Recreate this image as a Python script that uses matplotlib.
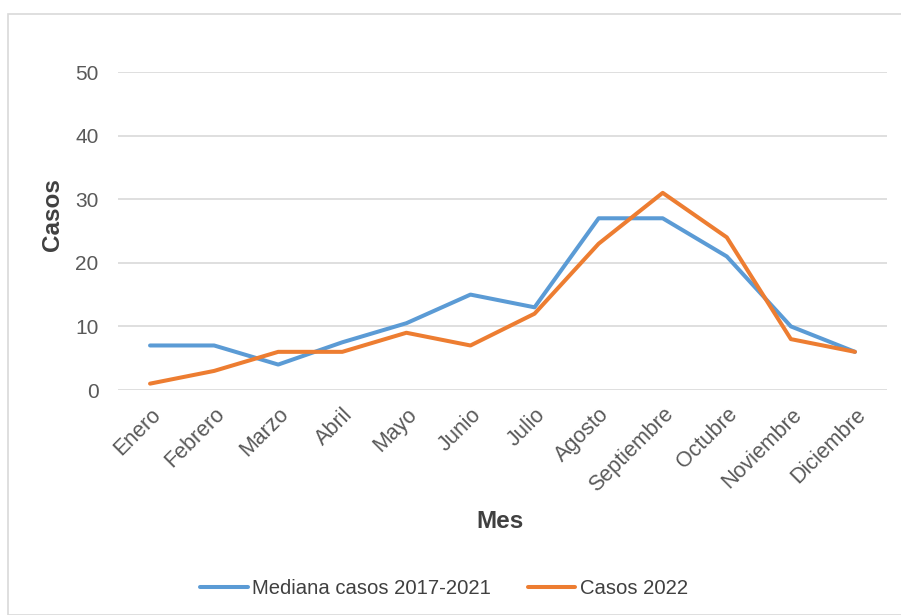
import matplotlib
matplotlib.use("Agg")
import matplotlib.pyplot as plt
from matplotlib.patches import Rectangle

plt.rcParams['font.family'] = ['Liberation Sans', 'DejaVu Sans']

meses = ["Enero", "Febrero", "Marzo", "Abril", "Mayo", "Junio", "Julio",
         "Agosto", "Septiembre", "Octubre", "Noviembre", "Diciembre"]
mediana = [7, 7, 4, 7.5, 10.5, 15, 13, 27, 27, 21, 10, 6]
casos_2022 = [1, 3, 6, 6, 9, 7, 12, 23, 31, 24, 8, 6]
yticks = [0, 10, 20, 30, 40, 50]

W, H = 901, 615
fig = plt.figure(figsize=(W / 100, H / 100), dpi=100)
fig.patches.append(Rectangle((8 / W, 0), 1, 1 - 14 / H, transform=fig.transFigure,
                             fill=False, edgecolor="#d9d9d9", linewidth=1.2))
ax = fig.add_axes([118 / W, 1 - 390 / H, (887 - 118) / W, (390 - 72) / H])

x = list(range(len(meses)))
ax.plot(x, mediana, color="#5B9BD5", linewidth=2.9, solid_capstyle="round",
        label="Mediana casos 2017-2021")
ax.plot(x, casos_2022, color="#ED7D31", linewidth=2.9, solid_capstyle="round",
        label="Casos 2022")

ax.set_xlim(-0.5, len(meses) - 0.5)
ax.set_ylim(0, 50)
ax.set_yticks(yticks)
ax.set_yticklabels([str(v) for v in yticks], fontsize=15, color="#595959")
ax.yaxis.grid(True, color="#d9d9d9", linewidth=1.2)
ax.set_axisbelow(True)
for s in ax.spines.values():
    s.set_visible(False)
ax.tick_params(axis="both", length=0)
ax.tick_params(axis="y", pad=14)

ax.set_xticks(x)
ax.set_xticklabels(meses, fontsize=15.5, color="#595959", rotation=45,
                   ha="right", va="top", rotation_mode="anchor")
ax.tick_params(axis="x", pad=10)

fig.text(53 / W, 1 - 215 / H, "Casos", rotation=90, ha="center", va="center",
         fontsize=17.5, fontweight="bold", color="#404040")
fig.text(500 / W, 1 - 522 / H, "Mes", ha="center", va="center",
         fontsize=17.5, fontweight="bold", color="#404040")

leg = fig.legend(loc="center", bbox_to_anchor=(444 / W, 1 - 589 / H), ncol=2,
                 frameon=False, fontsize=14.6, handlelength=2.36, handletextpad=0.2,
                 columnspacing=1.8)
for t in leg.get_texts():
    t.set_color("#404040")

fig.savefig("out.png", dpi=100)
